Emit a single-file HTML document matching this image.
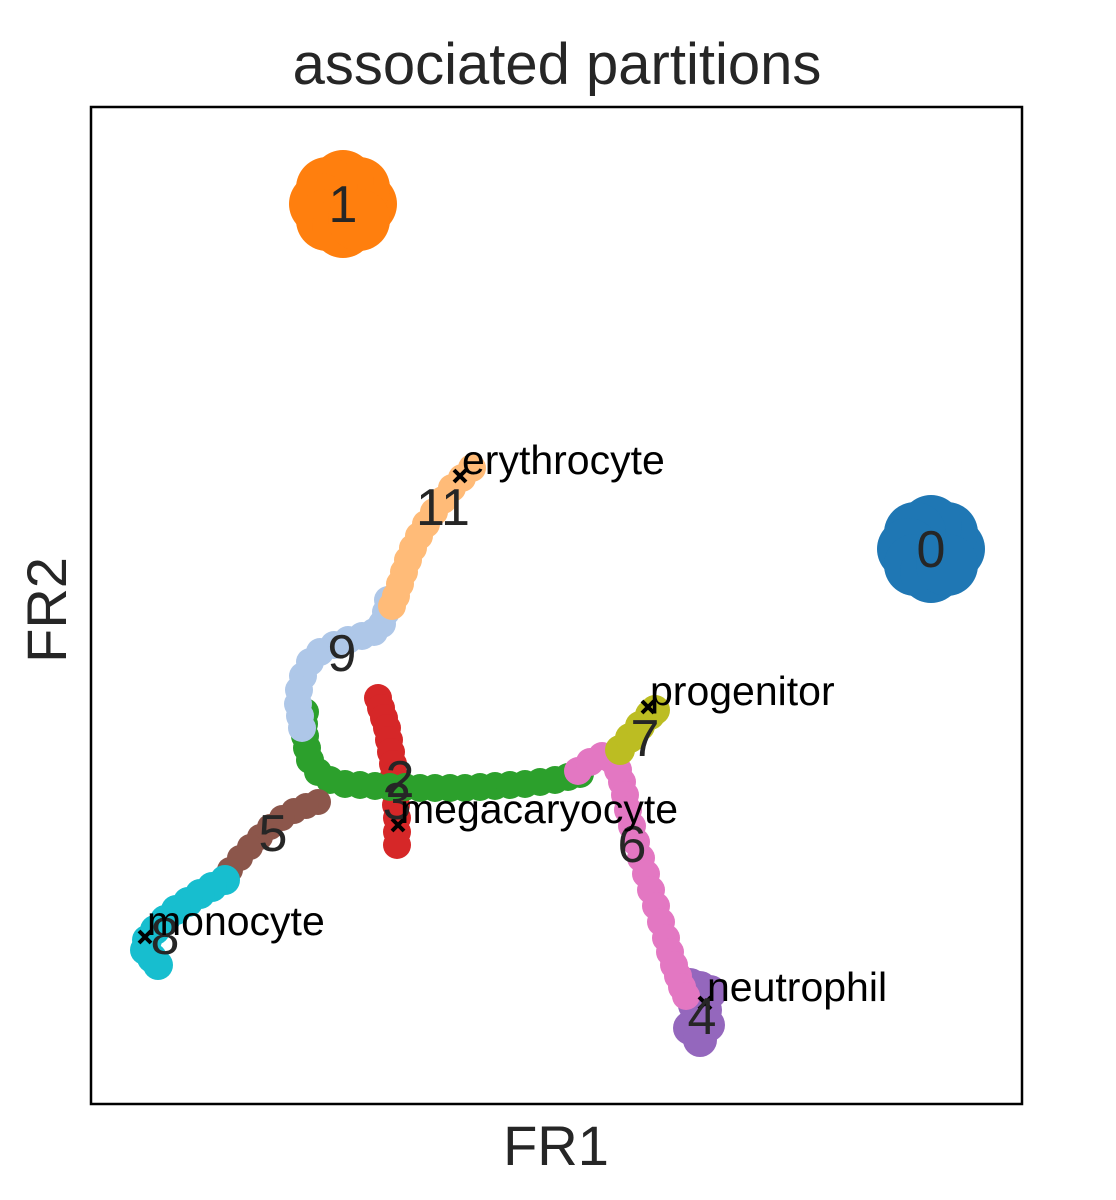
<!DOCTYPE html>
<html><head><meta charset="utf-8"><style>
body{margin:0;background:#fff;}
svg{display:block;font-family:"Liberation Sans",Arial,sans-serif;}
</style></head><body>
<svg id="chart" width="1116" height="1200">
<rect x="0" y="0" width="1116" height="1200" fill="#fff"/>
<text x="557" y="84" text-anchor="middle" font-size="58" fill="#262626">associated partitions</text>
<g id="marks"></g>
<rect x="91" y="107" width="931" height="997" fill="none" stroke="#000" stroke-width="2.5"/>
<text x="556" y="1165" text-anchor="middle" font-size="56" fill="#262626">FR1</text>
<text x="0" y="0" transform="translate(66,610) rotate(-90)" text-anchor="middle" font-size="56" fill="#262626">FR2</text>
</svg>
<script>
const clusterNames=["0","1","2","3","4","5","6","7","8","9","11"];
const clusterColors=["#1f77b4","#ff7f0e","#d62728","#2ca02c","#9467bd","#8c564b","#e377c2","#bcbd22","#17becf","#aec7e8","#ffbb78"];
const clusterX=[
 [931,954,947,931,915,908,915,931,947],
 [343,366,359,343,327,320,327,343,359],
 [378,381,384,387,389,391,393,394,395,396,397,397,397],
 [305,304,305,307,310,318,330,345,360,375,390,405,420,435,450,465,480,495,510,525,540,555,568,580],
 [690,700,710,695,705,700,690,708,700],
 [318,306,294,282,270,260,250,240,230],
 [578,590,602,612,618,622,625,628,632,636,641,646,651,656,661,666,670,674,678,682,686],
 [620,630,640,650,655],
 [225,212,200,188,176,165,155,147,145,152,158],
 [388,386,382,374,362,348,334,320,310,303,299,298,300,302],
 [472,462,452,443,434,426,419,413,408,404,400,396,392]
];
const clusterY=[
 [549,549,533,526,533,549,565,572,565],
 [204,204,188,181,188,204,220,227,220],
 [698,708,718,728,740,752,764,776,790,805,818,832,845],
 [712,724,736,748,760,772,780,784,785,786,787,787,788,788,788,788,787,786,785,784,782,780,777,774],
 [985,988,992,1005,1010,1020,1028,1025,1040],
 [802,806,811,818,827,837,847,858,870],
 [771,762,756,760,770,782,795,810,826,842,858,874,890,906,922,938,952,965,976,987,996],
 [750,738,726,715,710],
 [880,887,894,902,910,920,930,940,950,958,965],
 [600,612,624,632,636,640,645,652,662,676,690,704,716,728],
 [468,478,488,500,512,524,536,548,560,572,584,596,606]
];
const clusterR=[31,31,14,14,17,13,14,15,15,14,14];
const labelX=[931,343,400,397,702,273,632,645,165,342,443];
const labelY=[548,203,778,800,1015,832,843,737,935,652,506];
const annNames=["erythrocyte","progenitor","megacaryocyte","monocyte","neutrophil"];
const annX=[460,648,398,145,705];
const annY=[476,707,825,937,1003];

const X0=91,X1=1022,Y0=107,Y1=1104;
function sx(v){return X0+(v-91)/(1022-91)*(X1-X0);}
function sy(v){return Y0+(v-107)/(1104-107)*(Y1-Y0);}
const NS="http://www.w3.org/2000/svg";
const g=document.getElementById('marks');
function mk(t,a){const e=document.createElementNS(NS,t);for(const k in a)e.setAttribute(k,a[k]);g.appendChild(e);return e;}
clusterNames.forEach((n,i)=>{
  for(let j=0;j<clusterX[i].length;j++){
    const c=mk('circle',{cx:sx(clusterX[i][j]),cy:sy(clusterY[i][j]),r:clusterR[i],fill:clusterColors[i]});
    
    
  }
});
annNames.forEach((n,i)=>{
  const x=sx(annX[i]),y=sy(annY[i]);
  const m=mk('path',{d:`M${x-6} ${y-6}L${x+6} ${y+6}M${x-6} ${y+6}L${x+6} ${y-6}`,stroke:'#000','stroke-width':4});
  
  
});
clusterNames.forEach((n,i)=>{
  const t=mk('text',{x:sx(labelX[i]),y:sy(labelY[i])+19,'text-anchor':'middle','font-size':52,fill:'#262626'});
  t.textContent=n;
  
  
});
annNames.forEach((n,i)=>{
  const t=mk('text',{x:sx(annX[i])+2,y:sy(annY[i])-2,'font-size':41,fill:'#000'});
  t.textContent=n;
  
  
});
</script>
</body></html>
